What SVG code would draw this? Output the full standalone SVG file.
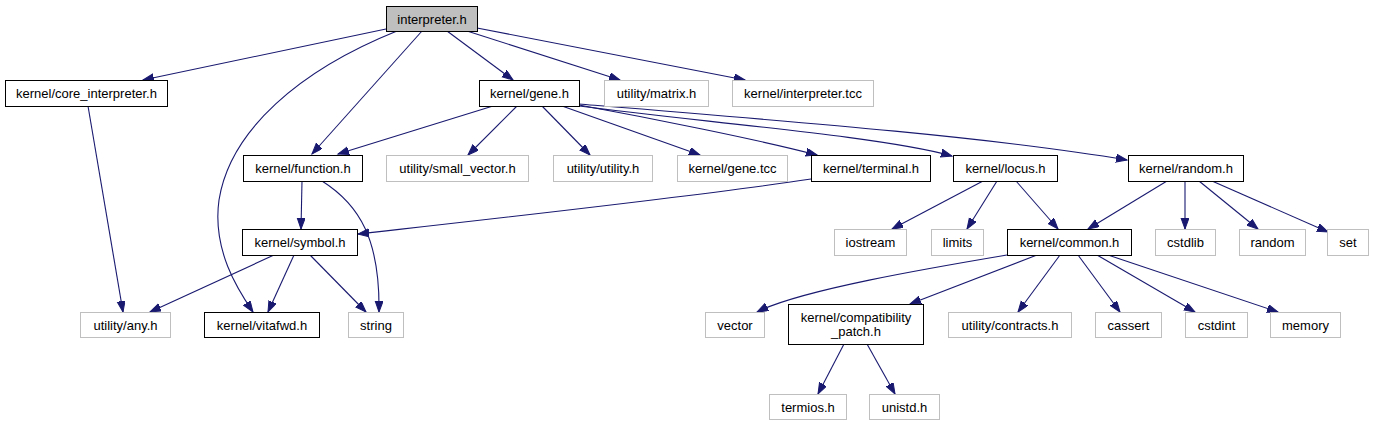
<svg xmlns="http://www.w3.org/2000/svg" width="1373" height="425" viewBox="0 0 1373 425">
<style>
.n rect{fill:#fff;stroke:#000;stroke-width:1}
.g rect{fill:#fff;stroke:#bfbfbf;stroke-width:1}
.root rect{fill:#bfbfbf;stroke:#000;stroke-width:1}
text{font-family:"Liberation Sans",Arial,sans-serif;font-size:13px;fill:#000;text-anchor:middle}
.e path{fill:none;stroke:#191970;stroke-width:1.1;marker-end:url(#ah)}
</style>
<defs>
<marker id="ah" markerUnits="userSpaceOnUse" markerWidth="13" markerHeight="10" refX="11" refY="4" orient="auto">
<path d="M0,0 L11,4 L0,8 z" fill="#191970" stroke="#191970" stroke-width="1"/>
</marker>
</defs>
<rect width="1373" height="425" fill="#fff"/>
<g id="edges" class="e">
<path d="M386,29 L143,80"/>
<path d="M422,31 L312,154"/>
<path d="M397,31 C300,70 230,130 219,200 C212,250 238,290 253,312"/>
<path d="M447,31 L513,80"/>
<path d="M467,31 L620,80"/>
<path d="M477,28 L745,80"/>
<path d="M88,106 L123,312"/>
<path d="M493,106 L338,154"/>
<path d="M517,106 L468,155"/>
<path d="M542,106 L590,155"/>
<path d="M562,106 L700,155"/>
<path d="M579,105 C650,118 760,140 817,155"/>
<path d="M579,106 C700,122 880,136 952,156"/>
<path d="M579,104 C800,122 1000,138 1127,160"/>
<path d="M302,181 L301,229"/>
<path d="M322,181 C360,205 380,240 379,312"/>
<path d="M811,179 C700,196 500,218 358,234"/>
<path d="M274,255 L150,312"/>
<path d="M294,255 L268,312"/>
<path d="M310,255 L366,312"/>
<path d="M983,181 L892,229"/>
<path d="M997,181 L967,229"/>
<path d="M1016,181 L1058,229"/>
<path d="M1167,181 L1088,229"/>
<path d="M1185,181 L1185,229"/>
<path d="M1199,181 L1258,229"/>
<path d="M1212,181 L1328,232"/>
<path d="M1007,255 C930,268 800,290 757,312"/>
<path d="M1037,255 L910,304"/>
<path d="M1060,255 L1018,312"/>
<path d="M1078,255 L1120,312"/>
<path d="M1097,255 L1195,312"/>
<path d="M1108,255 L1278,312"/>
<path d="M844,344 L818,394"/>
<path d="M867,344 L895,394"/>
</g>
<g id="interpreter_h" class="root"><rect x="386.5" y="6.5" width="91" height="25"/><text x="432" y="23.5">interpreter.h</text></g>
<g id="core_interpreter_h" class="n"><rect x="5.5" y="80.5" width="162" height="26"/><text x="86.5" y="98">kernel/core_interpreter.h</text></g>
<g id="gene_h" class="n"><rect x="479.5" y="80.5" width="100" height="26"/><text x="529.5" y="98">kernel/gene.h</text></g>
<g id="matrix_h" class="g"><rect x="604.5" y="80.5" width="104" height="26"/><text x="656.5" y="98">utility/matrix.h</text></g>
<g id="interpreter_tcc" class="g"><rect x="732.5" y="80.5" width="141" height="26"/><text x="803" y="98">kernel/interpreter.tcc</text></g>
<g id="function_h" class="n"><rect x="243.5" y="155.5" width="119" height="26"/><text x="303" y="173">kernel/function.h</text></g>
<g id="small_vector_h" class="g"><rect x="386.5" y="155.5" width="142" height="26"/><text x="457.5" y="173">utility/small_vector.h</text></g>
<g id="utility_h" class="g"><rect x="553.5" y="155.5" width="99" height="26"/><text x="603" y="173">utility/utility.h</text></g>
<g id="gene_tcc" class="g"><rect x="677.5" y="155.5" width="110" height="26"/><text x="732.5" y="173">kernel/gene.tcc</text></g>
<g id="terminal_h" class="n"><rect x="811.5" y="155.5" width="119" height="26"/><text x="871" y="173">kernel/terminal.h</text></g>
<g id="locus_h" class="n"><rect x="953.5" y="155.5" width="104" height="26"/><text x="1005.5" y="173">kernel/locus.h</text></g>
<g id="random_h" class="n"><rect x="1128.5" y="155.5" width="115" height="26"/><text x="1186" y="173">kernel/random.h</text></g>
<g id="symbol_h" class="n"><rect x="242.5" y="229.5" width="115" height="26"/><text x="300" y="247">kernel/symbol.h</text></g>
<g id="iostream" class="g"><rect x="834.5" y="229.5" width="72" height="26"/><text x="870.5" y="247">iostream</text></g>
<g id="limits" class="g"><rect x="931.5" y="229.5" width="52" height="26"/><text x="957.5" y="247">limits</text></g>
<g id="common_h" class="n"><rect x="1007.5" y="229.5" width="124" height="26"/><text x="1069.5" y="247">kernel/common.h</text></g>
<g id="cstdlib" class="g"><rect x="1155.5" y="229.5" width="60" height="26"/><text x="1185.5" y="247">cstdlib</text></g>
<g id="random" class="g"><rect x="1239.5" y="229.5" width="66" height="26"/><text x="1272.5" y="247">random</text></g>
<g id="set" class="g"><rect x="1327.5" y="229.5" width="41" height="26"/><text x="1348" y="247">set</text></g>
<g id="any_h" class="g"><rect x="80.5" y="312.5" width="90" height="25"/><text x="125.5" y="329.5">utility/any.h</text></g>
<g id="vitafwd_h" class="n"><rect x="204.5" y="312.5" width="115" height="25"/><text x="262" y="329.5">kernel/vitafwd.h</text></g>
<g id="string" class="g"><rect x="348.5" y="312.5" width="55" height="25"/><text x="376" y="329.5">string</text></g>
<g id="vector" class="g"><rect x="705.5" y="312.5" width="59" height="25"/><text x="735" y="329.5">vector</text></g>
<g id="compatibility_patch_h" class="n"><rect x="788.5" y="304.5" width="135" height="40"/><text x="856" y="321.5">kernel/compatibility</text><text x="856" y="335.5">_patch.h</text></g>
<g id="contracts_h" class="g"><rect x="948.5" y="312.5" width="123" height="25"/><text x="1010" y="329.5">utility/contracts.h</text></g>
<g id="cassert" class="g"><rect x="1095.5" y="312.5" width="66" height="25"/><text x="1128.5" y="329.5">cassert</text></g>
<g id="cstdint" class="g"><rect x="1185.5" y="312.5" width="62" height="25"/><text x="1216.5" y="329.5">cstdint</text></g>
<g id="memory" class="g"><rect x="1270.5" y="312.5" width="70" height="25"/><text x="1305.5" y="329.5">memory</text></g>
<g id="termios_h" class="g"><rect x="769.5" y="394.5" width="77" height="25"/><text x="808" y="411.5">termios.h</text></g>
<g id="unistd_h" class="g"><rect x="869.5" y="394.5" width="70" height="25"/><text x="904.5" y="411.5">unistd.h</text></g>
</svg>
